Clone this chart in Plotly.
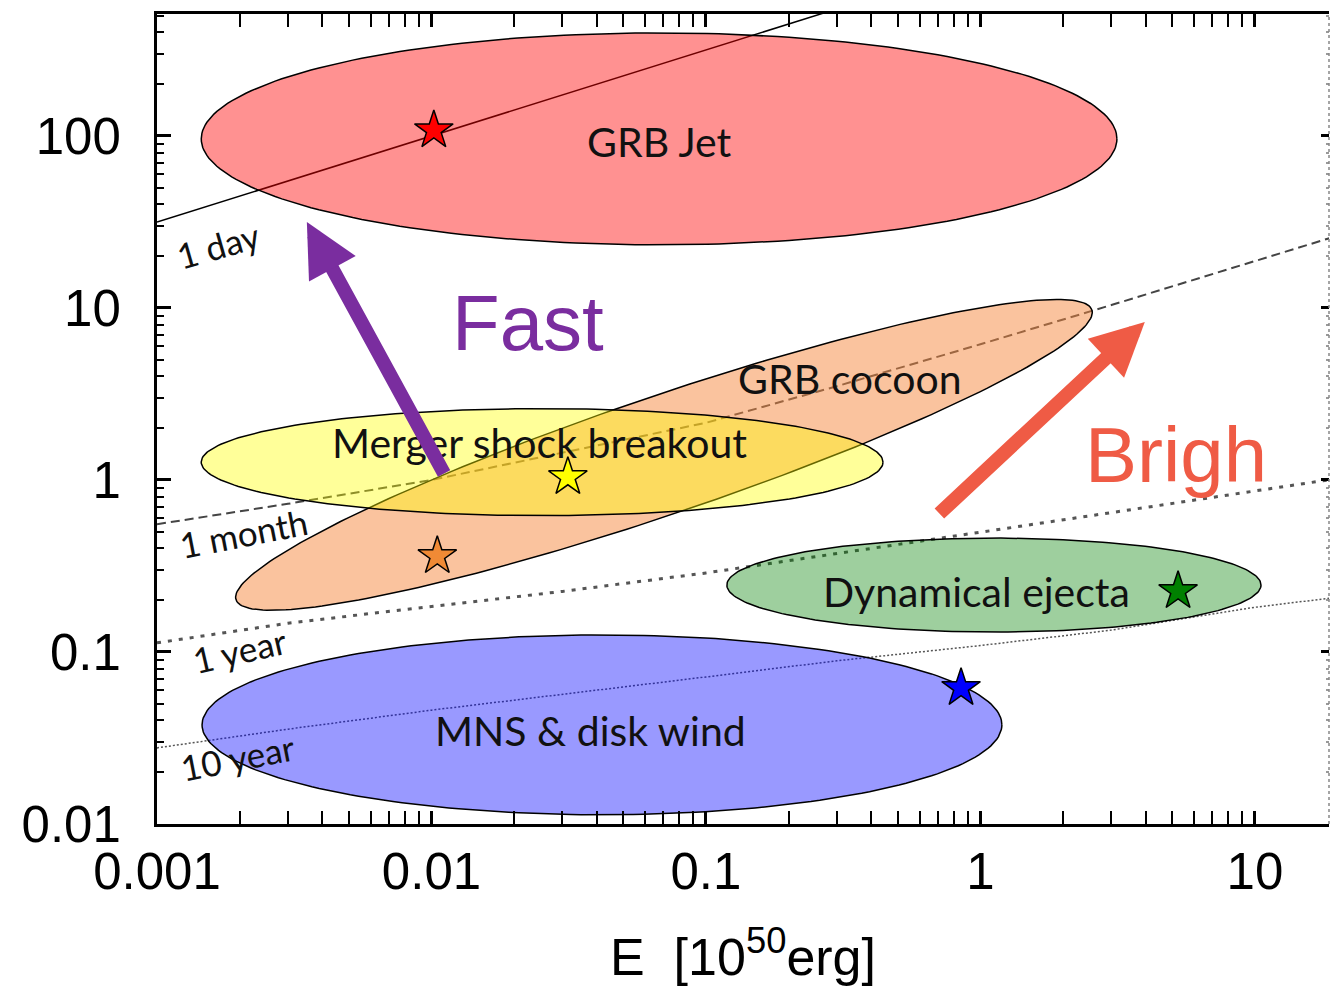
import numpy as np
import plotly.graph_objects as go

# ---------------- data ----------------
# constant-time curves: energy E [1e50 erg] vs. velocity (Gamma*beta)
curve_E = [0.001, 0.003, 0.01, 0.03, 0.1, 0.3, 1, 3, 10, 20]
day_E = [0.001, 0.01, 0.1, 0.3]
day_v = [31.6, 100, 316, 548]
month_v = [0.553, 0.727, 1.0, 1.44, 2.15, 3.51, 6.15, 10.4, 18.7, 26.3]
year_v = [0.113, 0.147, 0.184, 0.225, 0.288, 0.372, 0.497, 0.646, 0.861, 1.02]
tenyear_v = [0.0277, 0.0356, 0.0459, 0.0566, 0.0716, 0.0889, 0.109, 0.134, 0.182, 0.208]

# source regions (ellipses in log-log space)
region_names = ["GRB Jet", "GRB cocoon", "Merger shock breakout", "Dynamical ejecta", "MNS & disk wind"]
region_E_center = [0.0675, 0.0703, 0.0253, 1.12, 0.0418]
region_v_center = [96.2, 1.40, 1.27, 0.245, 0.0377]
region_major_dE = [1.668, 1.559, 1.242, 0.973, 1.457]   # decades
region_major_dv = [0.0, 0.843, 0.0, 0.0, 0.0]
region_minor_dE = [0.0, -0.069, 0.0, 0.0, 0.0]
region_minor_dv = [0.616, 0.325, 0.311, 0.273, 0.523]
region_fill = ["rgba(255,0,0,0.43)", "rgba(245,135,61,0.5)", "rgba(255,255,0,0.4)",
               "rgba(0,128,0,0.38)", "rgba(0,0,255,0.4)"]

# region label positions
label_E = [0.0675, 0.335, 0.0248, 0.964, 0.0381]
label_v = [92.5, 3.90, 1.66, 0.226, 0.0350]

# representative models (stars)
star_E = [0.0102, 0.0314, 0.0105, 5.25, 0.85]
star_v = [108, 1.04, 0.361, 0.226, 0.0618]
star_colors = ["#ff0000", "#ffff00", "#f08a35", "#008000", "#0000ff"]

# curve labels
curve_labels = ["1 day", "1 month", "1 year", "10 year"]
curve_label_E = [0.00167, 0.00206, 0.00200, 0.00197]
curve_label_v = [23.2, 0.492, 0.103, 0.0245]
curve_label_angle = [-16, -11, -13, -11]

x_tickvals = [0.001, 0.01, 0.1, 1, 10]
x_ticktext = ["0.001", "0.01", "0.1", "1", "10"]
y_tickvals = [0.01, 0.1, 1, 10, 100]
y_ticktext = ["0.01", "0.1", "1", "10", "100"]

X_RANGE = [-3, 1.27]
Y_RANGE = [-2, 2.709]

fig = go.Figure()

# curves (drawn first, under the translucent regions)
fig.add_trace(go.Scatter(x=day_E, y=day_v, mode="lines",
                         line=dict(color="black", width=1.5), hoverinfo="skip"))
fig.add_trace(go.Scatter(x=curve_E, y=month_v, mode="lines",
                         line=dict(color="#444444", width=2, dash="9px,5px"), hoverinfo="skip"))
fig.add_trace(go.Scatter(x=curve_E, y=year_v, mode="lines",
                         line=dict(color="#555555", width=3, dash="4px,7px"), hoverinfo="skip"))
fig.add_trace(go.Scatter(x=curve_E, y=tenyear_v, mode="lines",
                         line=dict(color="#555555", width=1.5, dash="2px,2px"), hoverinfo="skip"))

# regions
t = np.linspace(0, 2 * np.pi, 241)
for i in range(len(region_names)):
    lx = np.log10(region_E_center[i]) + region_major_dE[i] * np.cos(t) + region_minor_dE[i] * np.sin(t)
    ly = np.log10(region_v_center[i]) + region_major_dv[i] * np.cos(t) + region_minor_dv[i] * np.sin(t)
    fig.add_trace(go.Scatter(x=10 ** lx, y=10 ** ly, mode="lines", fill="toself",
                             fillcolor=region_fill[i], line=dict(color="black", width=1.5),
                             hoverinfo="skip"))

# stars
fig.add_trace(go.Scatter(x=star_E, y=star_v, mode="markers", yaxis="y2",
                         marker=dict(symbol="star", size=29, color=star_colors,
                                     line=dict(color="black", width=1.5)),
                         hoverinfo="skip"))

label_font = "Lato, Noto Sans, sans-serif"
annotations = []
for i, name in enumerate(region_names):
    annotations.append(dict(x=np.log10(label_E[i]), y=np.log10(label_v[i]), xref="x", yref="y",
                            text=name, showarrow=False,
                            font=dict(family=label_font, size=41, color="#111111")))
for i, name in enumerate(curve_labels):
    annotations.append(dict(x=np.log10(curve_label_E[i]), y=np.log10(curve_label_v[i]), xref="x", yref="y",
                            text=name, showarrow=False, textangle=curve_label_angle[i],
                            font=dict(family=label_font, size=35, color="#111111")))

# arrows
annotations.append(dict(x=-2.454, y=1.5, ax=-1.951, ay=0.029, xref="x", yref="y", axref="x", ayref="y",
                        text="", showarrow=True, arrowhead=2, arrowsize=0.76, arrowwidth=14,
                        arrowcolor="#7a2d9f", standoff=0, startstandoff=0))
annotations.append(dict(x=0.599, y=0.919, ax=-0.155, ay=-0.203, xref="x", yref="y", axref="x", ayref="y",
                        text="", showarrow=True, arrowhead=2, arrowsize=0.76, arrowwidth=14,
                        arrowcolor="#ef5b45", standoff=0, startstandoff=0))
annotations.append(dict(x=-1.648, y=0.913, xref="x", yref="y", text="Fast", showarrow=False,
                        font=dict(family="Liberation Sans, Arial", size=78, color="#7a2d9f")))
annotations.append(dict(x=0.712, y=0.145, xref="x", yref="y", text="Brigh", showarrow=False,
                        font=dict(family="Liberation Sans, Arial", size=78, color="#ef5b45")))

tick_font = dict(family="Liberation Sans, Arial, sans-serif", size=51, color="black")

fig.update_layout(
    width=1331, height=986,
    margin=dict(l=157, r=2, t=14, b=162),
    paper_bgcolor="white", plot_bgcolor="white",
    showlegend=False,
    annotations=annotations,
    xaxis=dict(type="log", range=X_RANGE, showgrid=False, zeroline=False,
               showline=True, linecolor="black", linewidth=3, mirror="allticks",
               ticks="inside", ticklen=13, tickwidth=2.5, tickcolor="black",
               tickvals=x_tickvals, ticktext=x_ticktext, tickfont=tick_font,
               ticklabelstandoff=1,
               minor=dict(ticks="inside", ticklen=7, tickwidth=2, tickcolor="black", dtick="D1", showgrid=False),
               title=dict(text="E\u00a0\u00a0[10<sup>50</sup>erg]",
                          font=dict(family="Liberation Sans, Arial, sans-serif", size=52, color="black"),
                          standoff=60),
               automargin=False),
    yaxis=dict(type="log", range=Y_RANGE, showgrid=False, zeroline=False,
               showline=True, linecolor="black", linewidth=3, mirror=False,
               ticks="inside", ticklen=14, tickwidth=2.5, tickcolor="black",
               tickvals=y_tickvals, ticktext=y_ticktext, tickfont=tick_font,
               ticklabelstandoff=23,
               minor=dict(ticks="inside", ticklen=7, tickwidth=2, tickcolor="black", dtick="D1", showgrid=False),
               automargin=False),
    yaxis2=dict(type="log", range=Y_RANGE, overlaying="y", side="right", anchor="x",
                showgrid=False, zeroline=False, showline=False,
                ticks="inside", ticklen=8, tickwidth=3, tickcolor="black",
                tickvals=y_tickvals, showticklabels=False,
                minor=dict(ticks="inside", ticklen=3, tickwidth=1.5, tickcolor="#999999", dtick="D1", showgrid=False),
                automargin=False),
    shapes=[dict(type="line", xref="paper", yref="paper", x0=1, x1=1, y0=0, y1=1,
                 line=dict(color="#888888", width=1.5, dash="dot"))],
)

fig.write_html("out.html")
